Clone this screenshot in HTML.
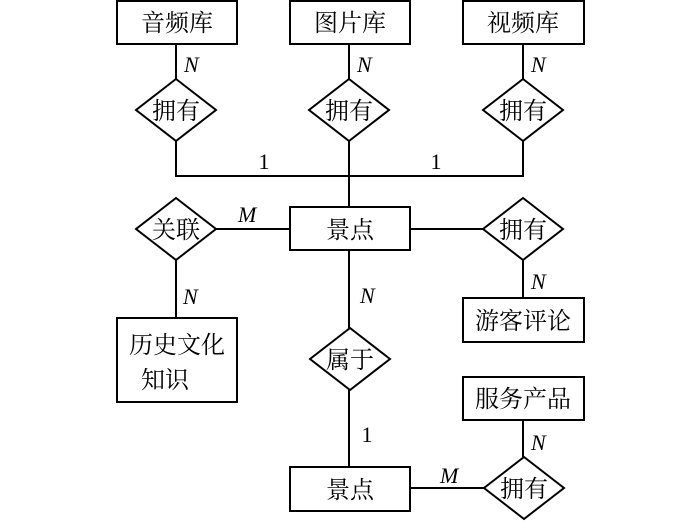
<!DOCTYPE html>
<html><head><meta charset="utf-8"><style>
body{margin:0;background:#fff;width:700px;height:521px;overflow:hidden}
text{font-family:"Liberation Serif","Noto Serif CJK SC",serif;font-size:24px;fill:#000}
.n{font-size:22px;font-style:italic}
.d{font-size:22px}
</style></head><body>
<svg width="700" height="521" viewBox="0 0 700 521" xmlns="http://www.w3.org/2000/svg">
<g fill="#fff" stroke="#000" stroke-width="2">
<path d="M176 44V79M349 44V79M523 44V79M176 141V176H523V141M349 141V207M216 229H290M410 229H483M176 260V318M523 260V298M349 250V328M349 390V467M410 488H484M523 420V457" fill="none"/>
<rect x="117" y="1" width="120" height="43"/>
<rect x="290" y="1" width="120" height="43"/>
<rect x="463" y="1" width="121" height="43"/>
<rect x="290" y="207" width="120" height="43"/>
<rect x="463" y="298" width="121" height="44"/>
<rect x="117" y="318" width="120" height="84"/>
<rect x="463" y="377" width="121" height="43"/>
<rect x="290" y="467" width="120" height="44"/>
<polygon points="176,79 216,110 176,141 136,110"/>
<polygon points="349,79 389,110 349,141 309,110"/>
<polygon points="523,79 563,110 523,141 483,110"/>
<polygon points="176,198 216,229 176,260 136,229"/>
<polygon points="523,198 563,229 523,260 483,229"/>
<polygon points="350,328 390,359 350,390 310,359"/>
<polygon points="524,457 564,488 524,519 484,488"/>
</g>
<g text-anchor="middle">
<text x="177" y="31">音频库</text>
<text x="350" y="31">图片库</text>
<text x="523" y="31">视频库</text>
<text x="176" y="119">拥有</text>
<text x="349" y="119">拥有</text>
<text x="523" y="119">拥有</text>
<text x="176" y="238">关联</text>
<text x="350" y="238">景点</text>
<text x="523" y="238">拥有</text>
<text x="523" y="329">游客评论</text>
<text x="177" y="353">历史文化</text>
<text x="165" y="388">知识</text>
<text x="350" y="368">属于</text>
<text x="523" y="407">服务产品</text>
<text x="350" y="498">景点</text>
<text x="524" y="497">拥有</text>
<text class="d" x="264" y="169">1</text>
<text class="d" x="436" y="169">1</text>
<text class="d" x="367" y="442">1</text>
</g>
<text x="184" y="72" class="n">N</text>
<text x="357" y="72" class="n">N</text>
<text x="531" y="72" class="n">N</text>
<text x="238" y="222" class="n">M</text>
<text x="183" y="304" class="n">N</text>
<text x="531" y="289" class="n">N</text>
<text x="360" y="303" class="n">N</text>
<text x="531" y="450" class="n">N</text>
<text x="440" y="483" class="n">M</text>
</svg>
</body></html>
